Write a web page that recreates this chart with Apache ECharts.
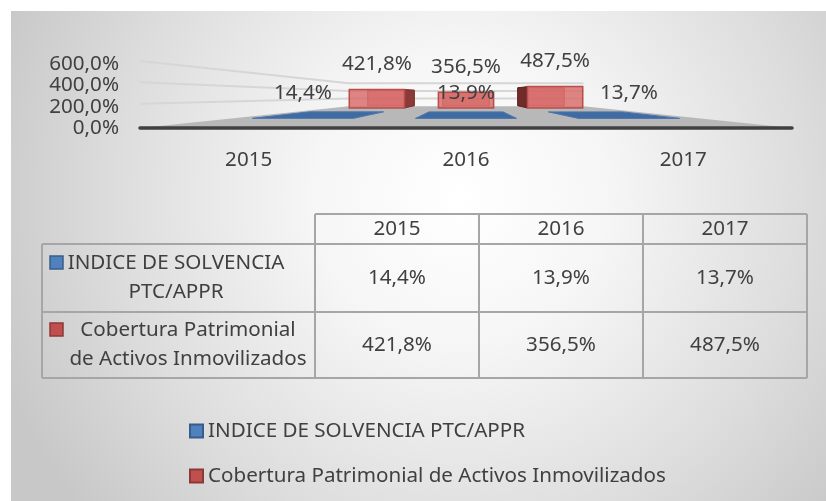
<!DOCTYPE html>
<html>
<head>
<meta charset="utf-8">
<script src="https://cdn.jsdelivr.net/npm/echarts@6/dist/echarts.min.js"></script>
<style>
html, body { margin: 0; padding: 0; background: #fff; }
#chart { width: 826px; height: 501px; }
</style>
</head>
<body>
<div id="chart"></div>
<script>
const years = ['2015', '2016', '2017'];
const nombres = ['INDICE DE SOLVENCIA PTC/APPR', 'Cobertura Patrimonial de Activos Inmovilizados'];
const solvencia = [14.4, 13.9, 13.7];
const cobertura = [421.8, 356.5, 487.5];
const yTicks = [0, 200, 400, 600];
const rotulosFila = [['INDICE DE SOLVENCIA', 'PTC/APPR'], ['Cobertura Patrimonial', 'de Activos Inmovilizados']];

const FONT = 'Noto Sans';
const FS = 20.6;
const TXT = '#404040';
const PROF = 34; // caida del piso hacia el fondo

const fmt = v => v.toFixed(1).replace('.', ',') + '%';

// proyeccion simple hacia un punto de fuga en el centro del grid
function persp(cs, x, y, s) {
    const vx = cs.x + cs.width / 2;
    const y0 = cs.y + cs.height;
    const yf = y0 - (1 - s) * PROF;
    return [vx + (x - vx) * s, yf - (y0 - y) * s];
}

function texto(x, y, t) {
    return {
        type: 'text', x: x, y: y, z2: 20,
        style: { text: t, fill: TXT, fontSize: FS, fontFamily: FONT, align: 'center', verticalAlign: 'middle' }
    };
}

function renderPiso(params, api) {
    const cs = params.coordSys;
    const y0 = cs.y + cs.height;
    const xl = cs.x, xr = cs.x + cs.width;
    const sb = 0.36;
    const hijos = [];
    yTicks.filter(t => t > 0).forEach(t => {
        const yt = api.coord([0, t])[1];
        hijos.push({
            type: 'polyline',
            shape: { points: [[xl, yt - 3], persp(cs, xl, yt, sb), persp(cs, xr, yt, sb)] },
            style: { stroke: '#d6d6d6', lineWidth: 2, fill: null }
        });
    });
    hijos.push({
        type: 'polygon',
        shape: { points: [[xl, y0], [xr, y0], persp(cs, xr, y0, sb), persp(cs, xl, y0, sb)] },
        style: { fill: '#b8b8b8' }
    });
    return { type: 'group', children: hijos };
}

function renderCaja(params, api) {
    const cs = params.coordSys;
    const i = api.value(0);
    const v = api.value(1);
    const c0 = api.coord([i, 0]);
    const c1 = api.coord([i, v]);
    const half = api.size([1, 0])[0] * 0.31;
    const xl = c0[0] - half, xr = c0[0] + half;
    const cara = s => [persp(cs, xl, c0[1], s), persp(cs, xr, c0[1], s), persp(cs, xr, c1[1], s), persp(cs, xl, c1[1], s)];
    const fr = cara(0.41), tr = cara(0.345);
    const vx = cs.x + cs.width / 2;
    const hijos = [{
        type: 'polygon', shape: { points: tr },
        style: { fill: 'rgba(190,80,77,0.6)', stroke: '#b04a47', lineWidth: 1 }
    }];
    if (fr[1][0] < vx - 1) {
        hijos.push({ type: 'polygon', shape: { points: [fr[1], tr[1], tr[2], fr[2]] }, style: { fill: '#8c3a38', stroke: '#7a3230', lineWidth: 1 } });
    } else if (fr[0][0] > vx + 1) {
        hijos.push({ type: 'polygon', shape: { points: [fr[0], tr[0], tr[3], fr[3]] }, style: { fill: '#6e2b2a', stroke: '#5e2422', lineWidth: 1 } });
    }
    hijos.push({
        type: 'polygon', shape: { points: fr },
        style: { fill: 'rgba(216,106,104,0.82)', stroke: '#b84d4a', lineWidth: 1.5 }
    });
    hijos.push(texto((fr[0][0] + fr[1][0]) / 2, fr[3][1] - 25, fmt(v)));
    return { type: 'group', children: hijos };
}

function renderPlaca(params, api) {
    const cs = params.coordSys;
    const i = api.value(0);
    const v = api.value(1);
    const c0 = api.coord([i, 0]);
    const c1 = api.coord([i, v]);
    const half = api.size([1, 0])[0] * 0.31;
    const xl = c0[0] - half, xr = c0[0] + half;
    const sf = 0.75, sb = 0.55;
    const pts = [persp(cs, xl, c1[1], sf), persp(cs, xr, c1[1], sf), persp(cs, xr, c1[1], sb), persp(cs, xl, c1[1], sb)];
    return {
        type: 'group',
        children: [
            { type: 'polygon', shape: { points: pts }, style: { fill: '#3f6ba3', stroke: '#4a76ad', lineWidth: 1 } },
            texto((pts[0][0] + pts[1][0]) / 2, pts[3][1] - 19, fmt(v))
        ]
    };
}

// tabla de datos debajo del grafico
const TX0 = 42, TX1 = 315, COLW = 164;
const TY = [214, 244, 312, 378];
const LINEA = { stroke: '#a6a6a6', lineWidth: 2 };
const XR = TX1 + COLW * years.length;

function tabla() {
    const el = [];
    const hl = (x1, x2, y) => el.push({ type: 'line', shape: { x1: x1, y1: y, x2: x2, y2: y }, style: LINEA });
    const vl = (x, y1, y2) => el.push({ type: 'line', shape: { x1: x, y1: y1, x2: x, y2: y2 }, style: LINEA });
    hl(TX1, XR, TY[0]);
    hl(TX0, XR, TY[1]);
    hl(TX0, XR, TY[2]);
    hl(TX0, XR, TY[3]);
    vl(TX0, TY[1], TY[3]);
    for (let c = 0; c <= years.length; c++) vl(TX1 + c * COLW, TY[0], TY[3]);

    const t = (x, y, s) => el.push({
        type: 'text', x: x, y: y,
        style: { text: s, fill: TXT, fontSize: FS, fontFamily: FONT, align: 'center', verticalAlign: 'middle' }
    });
    years.forEach((yr, c) => {
        const cx = TX1 + COLW * (c + 0.5);
        t(cx, (TY[0] + TY[1]) / 2, yr);
        t(cx, (TY[1] + TY[2]) / 2 + 0.5, fmt(solvencia[c]));
        t(cx, (TY[2] + TY[3]) / 2 + 0.5, fmt(cobertura[c]));
    });
    const centros = [176, 188];
    const colores = [['#4f81bd', '#385d8a'], ['#c0504d', '#8c3836']];
    rotulosFila.forEach((lineas, r) => {
        const cy = (TY[r + 1] + TY[r + 2]) / 2;
        t(centros[r], cy - 14.5, lineas[0]);
        t(centros[r], cy + 14.5, lineas[1]);
        el.push({
            type: 'rect', shape: { x: 50, y: cy - 22, width: 13, height: 13 },
            style: { fill: colores[r][0], stroke: colores[r][1], lineWidth: 1.5 }
        });
    });
    return el;
}

const chart = echarts.init(document.getElementById('chart'));

chart.setOption({
    animation: false,
    backgroundColor: '#fff',
    textStyle: { fontFamily: FONT },
    graphic: [{
        type: 'rect', x: 11, y: 11, z: -10,
        shape: { width: 815, height: 490 },
        style: {
            fill: {
                type: 'radial', x: 0.55, y: 0.38, r: 1.0,
                colorStops: [
                    { offset: 0, color: '#ffffff' },
                    { offset: 0.3, color: '#f6f6f6' },
                    { offset: 0.7, color: '#dddddd' },
                    { offset: 1, color: '#c8c8c8' }
                ]
            }
        }
    }, {
        type: 'group', x: 0, y: 0, z: 5,
        children: tabla()
    }],
    grid: { left: 140, right: 34, top: 64, bottom: 373 },
    legend: {
        data: nombres,
        orient: 'vertical',
        left: 189, top: 419, padding: 0,
        itemWidth: 13, itemHeight: 13, itemGap: 21,
        icon: 'rect',
        textStyle: { fontSize: FS, color: TXT, fontFamily: FONT, lineHeight: 24 }
    },
    xAxis: {
        type: 'category',
        data: years,
        z: 10,
        axisLine: { lineStyle: { color: '#404040', width: 3.5 } },
        axisTick: { show: false },
        axisLabel: { color: TXT, fontSize: FS, fontFamily: FONT, margin: 22 }
    },
    yAxis: {
        type: 'value',
        min: 0, max: 600, interval: 200,
        axisLine: { show: false },
        axisTick: { show: false },
        splitLine: { show: false },
        axisLabel: { color: TXT, fontSize: FS, fontFamily: FONT, margin: 21, formatter: v => fmt(v) }
    },
    series: [{
        name: 'piso',
        type: 'custom',
        renderItem: renderPiso,
        data: [[0, 0]],
        silent: true,
        z: 1
    }, {
        name: nombres[1],
        type: 'custom',
        renderItem: renderCaja,
        encode: { x: 0, y: 1 },
        data: cobertura.map((v, i) => [i, v]),
        itemStyle: { color: '#c0504d', borderColor: '#8c3836', borderWidth: 1.5 },
        z: 2
    }, {
        name: nombres[0],
        type: 'custom',
        renderItem: renderPlaca,
        encode: { x: 0, y: 1 },
        data: solvencia.map((v, i) => [i, v]),
        itemStyle: { color: '#4f81bd', borderColor: '#385d8a', borderWidth: 1.5 },
        z: 3
    }]
});
</script>
</body>
</html>
